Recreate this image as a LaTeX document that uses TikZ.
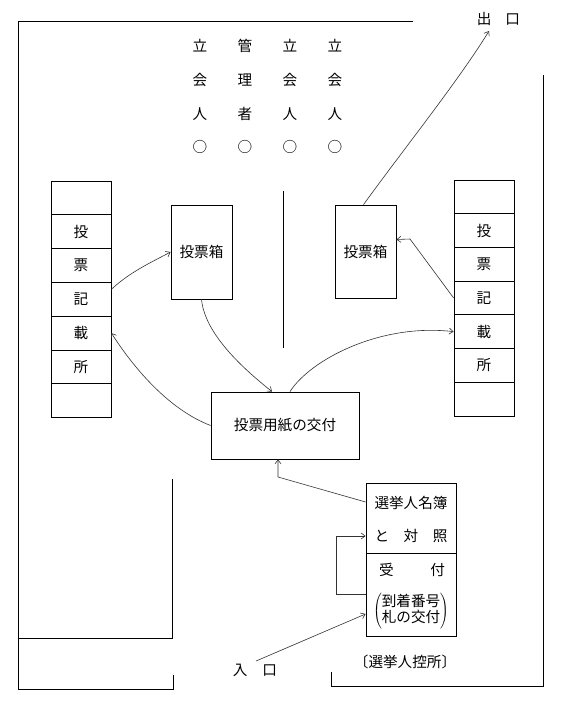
\documentclass[tikz,border=0pt]{standalone}
\usepackage{fontspec}
\setmainfont{Noto Sans CJK JP}
\usetikzlibrary{arrows.meta,calc}
\begin{document}
\begin{tikzpicture}[x=1pt,y=-1pt,
  wall/.style={line width=1pt},
  lbl/.style={inner sep=0pt,font=\fontsize{14.6pt}{19pt}\selectfont},
  box/.style={draw,line width=0.8pt,inner sep=0pt,font=\fontsize{14.6pt}{19pt}\selectfont},
  cell/.style={box,minimum width=60pt,minimum height=33.8pt},
  arr/.style={line width=0.6pt,draw=black!80,-{Straight Barb[length=4pt,width=6pt]}}
]
\useasboundingbox (0,0) rectangle (566,705);
\fill[white] (0,0) rectangle (566,705);

% walls
\draw[wall] (413,21) -- (18,21) -- (18,689) -- (173,689) -- (173,675);
\draw[wall] (18,638) -- (172,638) -- (172,479);
\draw[wall] (543,75) -- (543,686) -- (331,686) -- (331,672);
\draw[wall] (283,191) -- (283,348);

% top labels
\node[lbl] (a1) at (200,46) {立};
\node[lbl] (a2) at (200,80) {会};
\node[lbl] (a3) at (200,114) {人};
\node[lbl] (a4) at (200,147) {○};
\node[lbl] (b1) at (245,46) {管};
\node[lbl] (b2) at (245,80) {理};
\node[lbl] (b3) at (245,114) {者};
\node[lbl] (b4) at (245,147) {○};
\node[lbl] (c1) at (290,46) {立};
\node[lbl] (c2) at (290,80) {会};
\node[lbl] (c3) at (290,114) {人};
\node[lbl] (c4) at (290,147) {○};
\node[lbl] (d1) at (335,46) {立};
\node[lbl] (d2) at (335,80) {会};
\node[lbl] (d3) at (335,114) {人};
\node[lbl] (d4) at (335,147) {○};

\node[lbl] (exit) at (498.5,19) {出\hspace{14pt}口};
\coordinate (exitpt) at (489,31);
\node[lbl] (entr) at (255,670) {入\hspace{15pt}口};
\coordinate (entpt) at (256,661);

% booths
\foreach \t [count=\i] in {{},投,票,記,載,所,{}} {
  \node[cell] (L\i) at (81,{181+33.8*\i-16.9}) {\t};
  \node[cell,minimum height=33.7pt] (R\i) at (484,{180+33.7*\i-16.85}) {\t};
}

% ballot boxes
\node[box,minimum width=61pt,minimum height=94pt] (lbox) at (201.5,252) {投票箱};
\node[box,minimum width=61pt,minimum height=93pt] (rbox) at (365.5,251.5) {投票箱};

% issuing desk
\node[box,minimum width=148pt,minimum height=67pt] (cbox) at (285,425.5) {投票用紙の交付};

% register desk
\node[box,minimum width=90pt,minimum height=70pt] (regA) at (411,518) {};
\node[box,minimum width=90pt,minimum height=83pt] (regB) at (411,594.5) {};
\node[lbl] (tA1) at (411,503) {選挙人名簿};
\node[lbl] (tA2) at (411,536) {\makebox[5em][s]{と\hfill 対\hfill 照}};
\node[lbl] (tB1) at (412,570) {\makebox[4.5em][s]{受\hfill 付}};
\node[lbl] (tB2) at (411,611) {$\left(\begin{tabular}{@{}c@{}}到着番号\\[-3pt]札の交付\end{tabular}\right)$};
\node[lbl] (wait) at (405,662) {〔選挙人控所〕};

% connectors
\draw[arr] ([yshift=10pt]L4.east) .. controls (130,272) and (150,263) .. (lbox.west);
\draw[arr] (lbox.south) .. controls (205,335) and (245,370) .. ([xshift=-13pt]cbox.north);
\draw[arr] (cbox.west) .. controls (170,410) and (135,370) .. (L5.east);
\draw[arr] ([xshift=5pt]cbox.north) .. controls (310,360) and (380,323) .. (R5.west);
\draw[arr] (R4.west) -- (410,239) -- ($(rbox.east)+(0,-12)$);
\draw[arr] ([xshift=-2pt]rbox.north) .. controls (403,150) and (459,80) .. (exitpt);
\draw[arr] ($(regA.west)+(0,-16)$) -- (278,477) -- ([xshift=-7pt]cbox.south);
\draw[arr] (regB.west) -- (336,594.5) -- (336,536) -- ($(regA.west)+(0,18)$);
\draw[arr] (entpt) -- ($(regB.west)+(0,19.5)$);
\end{tikzpicture}
\end{document}
